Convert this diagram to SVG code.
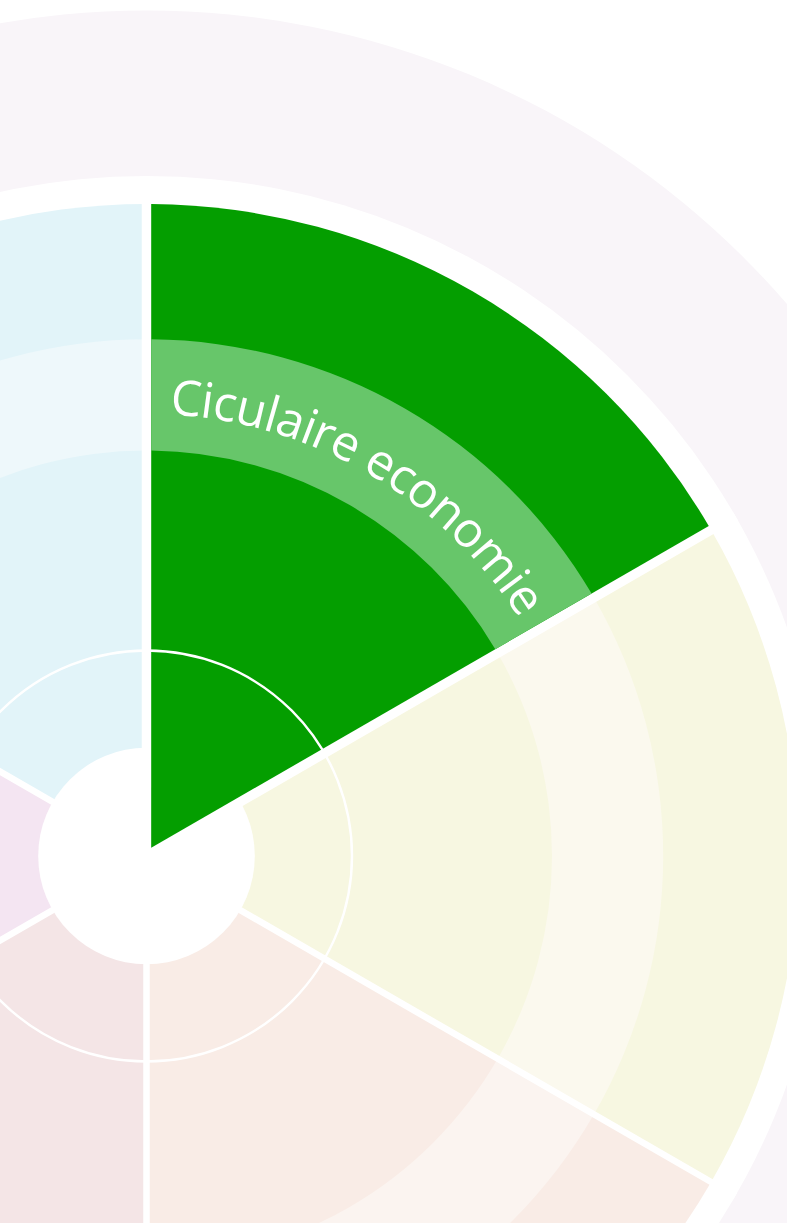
<svg xmlns="http://www.w3.org/2000/svg" width="787" height="1223" viewBox="0 0 787 1223">
<defs>
<style>
.sep{stroke:#ffffff;fill:none}
.lbl{font-family:"Open Sans","Noto Sans","Liberation Sans",sans-serif;font-size:49px;fill:#ffffff;letter-spacing:-0.8px}
</style>
<path id="labelArc" d="M146.5,414 A442,442 0 0 1 581.78,779.25"/>
</defs>
<rect x="0" y="0" width="787" height="1223" fill="#ffffff"/>
<g id="backdrop">
<circle cx="146.5" cy="856" r="845.5" fill="#f9f5f9"/>
<circle cx="146.5" cy="856" r="680" fill="#ffffff"/>
</g>
<g id="segment-blue">
<path d="M146.5,856 L-418.15,530 A652,652 0 0 1 146.5,204 Z" fill="#e2f4f9"/>
<path d="M-300.97,597.65 A516.7,516.7 0 0 1 146.5,339.3 L146.5,450.5 A405.5,405.5 0 0 0 -204.67,653.25 Z" fill="#eef8fb"/>
</g>
<g id="segment-yellow">
<path d="M146.5,856 L711.15,530 A652,652 0 0 1 711.15,1182 Z" fill="#f7f7e1"/>
<path d="M593.97,597.65 A516.7,516.7 0 0 1 593.97,1114.35 L497.67,1058.75 A405.5,405.5 0 0 0 497.67,653.25 Z" fill="#fbf9ee"/>
</g>
<g id="segment-peach">
<path d="M146.5,856 L711.15,1182 A652,652 0 0 1 146.5,1508 Z" fill="#f9ece6"/>
<path d="M593.97,1114.35 A516.7,516.7 0 0 1 146.5,1372.7 L146.5,1261.5 A405.5,405.5 0 0 0 497.67,1058.75 Z" fill="#fbf4f0"/>
</g>
<g id="segment-pink">
<path d="M146.5,856 L146.5,1508 A652,652 0 0 1 -418.15,1182 Z" fill="#f4e5e6"/>
</g>
<g id="segment-lavender">
<path d="M146.5,856 L-418.15,1182 A652,652 0 0 1 -418.15,530 Z" fill="#f4e5f2"/>
</g>
<g id="separators">
<line class="sep" x1="146.5" y1="856" x2="146.5" y2="180" stroke-width="9.5"/>
<line class="sep" x1="146.5" y1="856" x2="735.4" y2="516" stroke-width="9.5"/>
<line class="sep" x1="146.5" y1="856" x2="735.4" y2="1196" stroke-width="6.5"/>
<line class="sep" x1="146.5" y1="856" x2="146.5" y2="1536" stroke-width="6.5"/>
<line class="sep" x1="146.5" y1="856" x2="-442.4" y2="1196" stroke-width="6.5"/>
<line class="sep" x1="146.5" y1="856" x2="-442.4" y2="516" stroke-width="6.5"/>
<circle cx="146.5" cy="856" r="108.3" fill="#ffffff"/>
</g>
<g id="segment-green">
<path d="M151.2,847.86 L151.2,204.02 A652,652 0 0 1 708.78,525.94 Z" fill="#049e00"/>
<path d="M151.2,339.32 A516.7,516.7 0 0 1 591.61,593.59 L495.3,649.19 A405.5,405.5 0 0 0 151.2,450.53 Z" fill="#67c66a"/>
<text class="lbl"><textPath href="#labelArc" startOffset="23">Ciculaire economie</textPath></text>
</g>
<g id="inner-ring">
<circle cx="146.5" cy="856" r="205.5" fill="none" stroke="#ffffff" stroke-width="2.4"/>
</g>
</svg>
